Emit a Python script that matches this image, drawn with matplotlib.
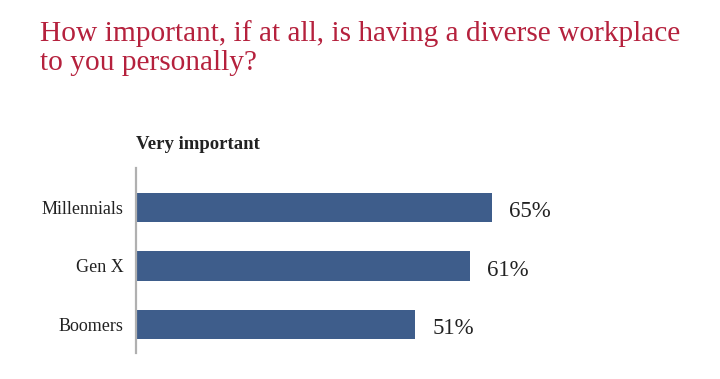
import matplotlib
matplotlib.use("Agg")
import matplotlib.pyplot as plt

groups = ["Millennials", "Gen X", "Boomers"]
values = [65, 61, 51]
title = "How important, if at all, is having a diverse workplace\nto you personally?"
subtitle = "Very important"

plt.rcParams['font.family'] = ['Liberation Serif', 'DejaVu Serif']

fig = plt.figure(figsize=(7.2, 3.79), dpi=100)
ax = fig.add_axes([136 / 720, 1 - 353 / 379, 548 / 720, 185 / 379])

ypos = list(range(len(groups)))
ax.barh(ypos, values, height=0.5, color="#3e5d8b")
ax.set_xlim(0, 100)
ax.set_ylim(2.487, -0.675)

for y, v in zip(ypos, values):
    ax.text(v + 3.1, y + 0.07, f"{v}%", va="center", ha="left", fontsize=16.5, color="#222222")

ax.set_yticks(ypos)
ax.set_yticklabels(groups, fontsize=13, color="#222222")
ax.tick_params(axis="y", length=0, pad=9)
ax.set_xticks([])
for s in ["top", "right", "bottom"]:
    ax.spines[s].set_visible(False)
ax.spines["left"].set_color("#b0b0b0")
ax.spines["left"].set_linewidth(1.6)

fig.text(40 / 720, 1 - 20 / 379, title, fontsize=21.2, color="#b5213d",
         va="top", ha="left", linespacing=1.15)
fig.text(136 / 720, 1 - 145 / 379, subtitle, fontsize=13.5, fontweight="bold",
         color="#222222", va="center", ha="left")

fig.savefig("out.png", dpi=100)
